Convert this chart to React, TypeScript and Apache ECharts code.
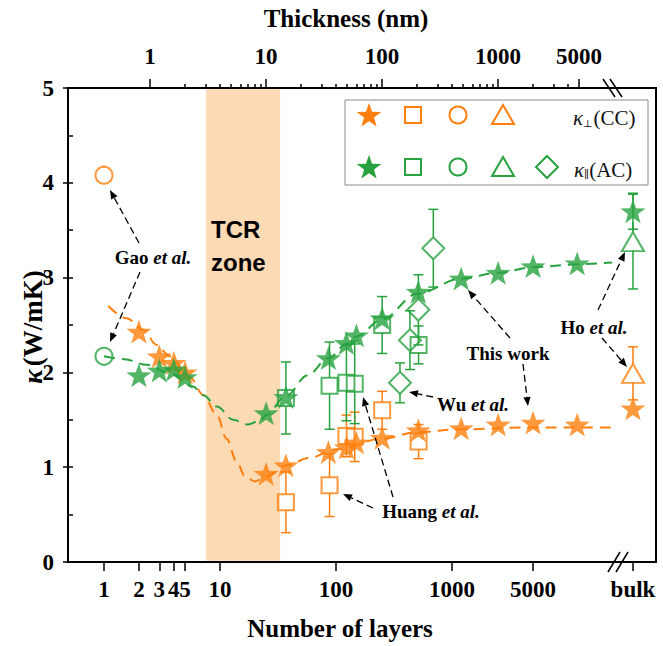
import { useEffect, useRef } from 'react';
import * as echarts from 'echarts';

// ---------- data ----------
type Lx = number | 'bulk';

// This work (stars)
const workLayers: Lx[] = [2, 3, 4, 5, 25, 37, 86, 123, 150, 250, 512, 1200, 2500, 5000, 12000, 'bulk'];
const workPerp = [2.43, 2.17, 2.10, 2.00, 0.93, 1.02, 1.16, 1.21, 1.26, 1.31, 1.39, 1.41, 1.45, 1.47, 1.45, 1.62];
const workPara = [1.97, 2.02, 2.03, 1.95, 1.57, 1.74, 2.15, 2.31, 2.39, 2.57, 2.85, 2.99, 3.05, 3.12, 3.15, 3.70];
const workParaErr = [0, 0, 0, 0, 0, 0, 0, 0, 0, 0, 0, 0, 0, 0, 0, 0.19];

// Huang et al. (squares)
const huangLayers: Lx[] = [37, 88, 123, 145, 250, 515];
const huangPerp = [0.63, 0.81, 1.33, 1.32, 1.60, 1.27];
const huangPerpErr = [0.32, 0.33, 0.22, 0.26, 0.20, 0.18];
const huangPara = [1.73, 1.86, 1.89, 1.88, 2.50, 2.29];
const huangParaErr = [0.38, 0.46, 0.40, 0.42, 0.30, 0.20];

// Gao et al. (circles)
const gaoLayers: Lx[] = [1];
const gaoPerp = [4.08];
const gaoPara = [2.17];

// Ho et al. (triangles)
const hoLayers: Lx[] = ['bulk'];
const hoPerp = [1.99];
const hoPerpErr = [0.28];
const hoPara = [3.38];
const hoParaErr = [0.5];

// Wu et al. (diamonds, in-plane only)
const wuLayers: Lx[] = [356, 434, 513, 690];
const wuPara = [1.89, 2.34, 2.66, 3.31];
const wuParaErr = [0.21, 0.31, 0.37, 0.41];

// dashed guide curves
const perpFitLayers = [1.09, 1.57, 2.18, 2.84, 3.7, 5.5, 7.2, 9.4, 11.4, 13.9, 16.5, 20, 25, 37, 60, 100, 250, 500, 1200, 5000, 24000];
const perpFitK = [2.70, 2.57, 2.45, 2.29, 2.17, 1.95, 1.76, 1.55, 1.30, 1.06, 0.90, 0.85, 0.90, 1.02, 1.10, 1.19, 1.30, 1.37, 1.40, 1.42, 1.42];
const paraFitLayers = [1, 1.5, 2.33, 3.7, 5.85, 7.2, 9.4, 13, 17.4, 22, 25, 37, 57, 86, 123, 150, 250, 500, 1200, 2500, 5000, 12000, 24000];
const paraFitK = [2.17, 2.14, 2.08, 1.99, 1.85, 1.76, 1.64, 1.50, 1.45, 1.49, 1.55, 1.75, 1.97, 2.15, 2.30, 2.38, 2.56, 2.83, 2.99, 3.05, 3.11, 3.14, 3.16];

// axes
const bottomTicks: Lx[] = [1, 2, 3, 4, 5, 10, 100, 1000, 5000, 'bulk'];
const topMajorTicks = [1, 10, 100, 1000, 5000];
const topMinorTicks = [2, 3, 4, 5, 6, 7, 8, 9, 20, 30, 40, 50, 60, 70, 80, 90, 200, 300, 400, 500, 600, 700, 800, 900, 2000, 3000, 4000];
const tcrZoneLayers = [7.6, 33];

// ---------- helpers ----------
const BULK_POS = 4.56;
const X_MIN = -0.3103;
const X_MAX = 4.7586;
const NM_PER_LAYER = 0.401;
const xOf = (l: Lx) => (l === 'bulk' ? BULK_POS : Math.log10(l));

const ORANGE = '#FF7F0E';
const GREEN = '#27A23E';
const SERIF = "'Liberation Serif', 'Times New Roman', serif";
const SANS = "'Liberation Sans', Arial, sans-serif";
const SYM = "'DejaVu Serif', 'DejaVu Sans', serif";

const starPts = Array.from({ length: 10 }, (_, i) => {
  const a = ((-90 + 36 * i) * Math.PI) / 180;
  const r = i % 2 === 0 ? 10 : 4;
  return [r * Math.cos(a), r * Math.sin(a)];
});
const STAR =
  'path://' + starPts.map((p, i) => (i ? 'L' : 'M') + p[0].toFixed(3) + ' ' + p[1].toFixed(3)).join(' ') + 'Z';

const pts = (ls: Lx[], ks: number[]) => ls.map((l, i) => [xOf(l), ks[i]]);

function scatter(ls: Lx[], ks: number[], symbol: string, size: number | number[], color: string, hollow: boolean, z: number) {
  return {
    type: 'scatter',
    xAxisIndex: 0,
    yAxisIndex: 0,
    silent: true,
    z,
    symbol,
    symbolSize: size,
    symbolKeepAspect: true,
    itemStyle: hollow
      ? { color: 'rgba(255,255,255,0)', borderColor: color, borderWidth: 2 }
      : { color, borderWidth: 0 },
    data: pts(ls, ks),
  };
}

function errorBars(ls: Lx[], ks: number[], es: number[], color: string, gap: number) {
  const data = ls.map((l, i) => [xOf(l), ks[i], es[i]]).filter((d) => d[2] > 0);
  return {
    type: 'custom',
    xAxisIndex: 0,
    yAxisIndex: 0,
    silent: true,
    z: 3,
    encode: { x: 0, y: 1 },
    data,
    renderItem: (_p: any, api: any) => {
      const x = api.value(0), y = api.value(1), e = api.value(2);
      const c = api.coord([x, y]);
      const t = api.coord([x, y + e]);
      const b = api.coord([x, y - e]);
      const st = { stroke: color, lineWidth: 1.5 };
      const ch: any[] = [];
      const cap = 5;
      if (t[1] < c[1] - gap) ch.push({ type: 'line', shape: { x1: c[0], y1: t[1], x2: c[0], y2: c[1] - gap }, style: st });
      if (b[1] > c[1] + gap) ch.push({ type: 'line', shape: { x1: c[0], y1: c[1] + gap, x2: c[0], y2: b[1] }, style: st });
      ch.push({ type: 'line', shape: { x1: c[0] - cap, y1: t[1], x2: c[0] + cap, y2: t[1] }, style: st });
      ch.push({ type: 'line', shape: { x1: c[0] - cap, y1: b[1], x2: c[0] + cap, y2: b[1] }, style: st });
      return { type: 'group', children: ch };
    },
  };
}

function fitLine(ls: number[], ks: number[], color: string) {
  return {
    type: 'line',
    xAxisIndex: 0,
    yAxisIndex: 0,
    silent: true,
    z: 2,
    smooth: 0.35,
    smoothMonotone: 'x',
    showSymbol: false,
    symbol: 'none',
    lineStyle: { color, width: 2, type: [11, 7] },
    data: ls.map((l, i) => [Math.log10(l), ks[i]]),
  };
}

function arrow(x1: number, y1: number, x2: number, y2: number) {
  const a = Math.atan2(y2 - y1, x2 - x1);
  const L = 9, W = 3.6;
  const bx = x2 - L * Math.cos(a), by = y2 - L * Math.sin(a);
  return [
    { type: 'line', z: 100, shape: { x1, y1, x2: bx, y2: by }, style: { stroke: '#000', lineWidth: 1.3, lineDash: [7, 4] } },
    {
      type: 'polygon', z: 100,
      shape: { points: [[x2, y2], [bx + W * Math.sin(a), by - W * Math.cos(a)], [bx - W * Math.sin(a), by + W * Math.cos(a)]] },
      style: { fill: '#000' },
    },
  ];
}

const annRich = {
  a: { fontFamily: SERIF, fontWeight: 'bold', fontSize: 19, fill: '#000' },
  b: { fontFamily: SERIF, fontWeight: 'bold', fontStyle: 'italic', fontSize: 19, fill: '#000' },
};
function annText(text: string, x: number, y: number) {
  return { type: 'text', z: 101, x, y, style: { text, rich: annRich, textAlign: 'center', textVerticalAlign: 'middle' } };
}

function starPolygon(cx: number, cy: number, size: number, color: string) {
  const s = size / 20;
  return { type: 'polygon', z: 101, shape: { points: starPts.map((p) => [cx + p[0] * s, cy + 1 + p[1] * s]) }, style: { fill: color } };
}
function legendRow(cy: number, color: string, withDiamond: boolean) {
  const hs = { fill: 'none', stroke: color, lineWidth: 2 };
  const els: any[] = [
    starPolygon(369, cy, 26, color),
    { type: 'rect', z: 101, shape: { x: 405, y: cy - 8, width: 16, height: 16 }, style: hs },
    { type: 'circle', z: 101, shape: { cx: 458, cy, r: 8.5 }, style: hs },
    { type: 'polygon', z: 101, shape: { points: [[503, cy - 10], [514, cy + 9], [492, cy + 9]] }, style: hs },
  ];
  if (withDiamond) els.push({ type: 'polygon', z: 101, shape: { points: [[547, cy - 11], [558, cy], [547, cy + 11], [536, cy]] }, style: hs });
  return els;
}

const tickFont = { fontFamily: SERIF, fontWeight: 'bold', fontSize: 23, color: '#000' };
const blackLine = { color: '#000', width: 2 };
const tickLine = { color: '#000', width: 1.5 };
const TOP_SHIFT = Math.log10(NM_PER_LAYER);

const option: any = {
  animation: false,
  grid: { left: 68, top: 88, right: 7, bottom: 84 },
  xAxis: [
    {
      type: 'value', position: 'bottom', min: X_MIN, max: X_MAX,
      splitLine: { show: false },
      axisLine: { show: true, onZero: false, lineStyle: blackLine },
      axisTick: { show: true, inside: false, length: 9, customValues: bottomTicks.map(xOf), lineStyle: tickLine },
      axisLabel: {
        ...tickFont, margin: 16, customValues: bottomTicks.map(xOf),
        formatter: (v: number) => {
          const i = bottomTicks.findIndex((t) => Math.abs(xOf(t) - v) < 1e-6);
          return i >= 0 ? String(bottomTicks[i]) : '';
        },
      },
    },
    {
      type: 'value', position: 'top', min: X_MIN + TOP_SHIFT, max: X_MAX + TOP_SHIFT,
      splitLine: { show: false },
      axisLine: { show: true, onZero: false, lineStyle: blackLine },
      axisTick: { show: true, inside: false, length: 9, customValues: topMajorTicks.map((t) => Math.log10(t)), lineStyle: tickLine },
      axisLabel: {
        ...tickFont, margin: 20, customValues: topMajorTicks.map((t) => Math.log10(t)),
        formatter: (v: number) => String(Math.round(Math.pow(10, v))),
      },
    },
    {
      type: 'value', position: 'top', min: X_MIN + TOP_SHIFT, max: X_MAX + TOP_SHIFT,
      splitLine: { show: false },
      axisLine: { show: true, onZero: false, lineStyle: blackLine },
      axisTick: { show: true, inside: false, length: 4, customValues: topMinorTicks.map((t) => Math.log10(t)), lineStyle: tickLine },
      axisLabel: { show: false },
    },
  ],
  yAxis: [
    {
      type: 'value', position: 'left', min: 0, max: 5, interval: 1,
      splitLine: { show: false },
      axisLine: { show: true, onZero: false, lineStyle: blackLine },
      axisTick: { show: true, inside: false, length: 5, lineStyle: tickLine },
      axisLabel: { ...tickFont, margin: 14 },
    },
    {
      type: 'value', position: 'left', min: 0, max: 5, interval: 0.5,
      splitLine: { show: false },
      axisLine: { show: true, onZero: false, lineStyle: blackLine },
      axisTick: { show: true, inside: true, length: 5, lineStyle: tickLine },
      axisLabel: { show: false },
    },
    {
      type: 'value', position: 'right', min: 0, max: 5,
      splitLine: { show: false },
      axisLine: { show: true, onZero: false, lineStyle: blackLine },
      axisTick: { show: false },
      axisLabel: { show: false },
    },
  ],
  series: [
    fitLine(perpFitLayers, perpFitK, ORANGE),
    fitLine(paraFitLayers, paraFitK, GREEN),
    errorBars(huangLayers, huangPerp, huangPerpErr, ORANGE, 8),
    errorBars(huangLayers, huangPara, huangParaErr, GREEN, 8),
    errorBars(wuLayers, wuPara, wuParaErr, GREEN, 11),
    errorBars(hoLayers, hoPerp, hoPerpErr, ORANGE, 9),
    errorBars(hoLayers, hoPara, hoParaErr, GREEN, 9),
    errorBars(workLayers, workPara, workParaErr, GREEN, 11),
    scatter(workLayers, workPerp, STAR, 25, ORANGE, false, 4),
    scatter(workLayers, workPara, STAR, 25, GREEN, false, 4),
    scatter(huangLayers, huangPerp, 'rect', 16, ORANGE, true, 5),
    scatter(huangLayers, huangPara, 'rect', 16, GREEN, true, 5),
    scatter(gaoLayers, gaoPerp, 'circle', 17, ORANGE, true, 5),
    scatter(gaoLayers, gaoPara, 'circle', 17, GREEN, true, 5),
    scatter(hoLayers, hoPerp, 'triangle', [22, 19], ORANGE, true, 5),
    scatter(hoLayers, hoPara, 'triangle', [22, 19], GREEN, true, 5),
    scatter(wuLayers, wuPara, 'diamond', 22, GREEN, true, 5),
    {
      type: 'line', xAxisIndex: 0, yAxisIndex: 0, z: 8, silent: true, data: [],
      markArea: {
        silent: true,
        itemStyle: { color: 'rgba(248,188,118,0.55)' },
        data: [[{ xAxis: Math.log10(tcrZoneLayers[0]), yAxis: 0.012 }, { xAxis: Math.log10(tcrZoneLayers[1]), yAxis: 4.988 }]],
      },
    },
  ],
  graphic: [
    // titles
    { type: 'text', z: 101, x: 346, y: 18, style: { text: 'Thickness (nm)', fontFamily: SERIF, fontWeight: 'bold', fontSize: 25, fill: '#000', textAlign: 'center', textVerticalAlign: 'middle' } },
    { type: 'text', z: 101, x: 340, y: 628, style: { text: 'Number of layers', fontFamily: SERIF, fontWeight: 'bold', fontSize: 25, fill: '#000', textAlign: 'center', textVerticalAlign: 'middle' } },
    {
      type: 'text', z: 101, x: 33, y: 327, rotation: Math.PI / 2,
      style: {
        text: '{i|κ} {n|(W/mK)}', textAlign: 'center', textVerticalAlign: 'middle',
        rich: {
          i: { fontFamily: SERIF, fontWeight: 'bold', fontStyle: 'italic', fontSize: 27, fill: '#000' },
          n: { fontFamily: SERIF, fontWeight: 'bold', fontSize: 27, fill: '#000' },
        },
      },
    },
    // TCR zone text
    { type: 'text', z: 101, x: 211, y: 246, style: { text: 'TCR\nzone', fontFamily: SANS, fontWeight: 'bold', fontSize: 24, lineHeight: 33, fill: '#000', textAlign: 'left', textVerticalAlign: 'middle' } },
    // axis break marks
    { type: 'line', z: 101, shape: { x1: 603, y1: 79, x2: 615, y2: 97 }, style: { stroke: '#000', lineWidth: 1.5 } },
    { type: 'line', z: 101, shape: { x1: 610, y1: 79, x2: 622, y2: 97 }, style: { stroke: '#000', lineWidth: 1.5 } },
    { type: 'line', z: 101, shape: { x1: 608, y1: 572, x2: 620, y2: 552 }, style: { stroke: '#000', lineWidth: 1.5 } },
    { type: 'line', z: 101, shape: { x1: 616, y1: 572, x2: 628, y2: 552 }, style: { stroke: '#000', lineWidth: 1.5 } },
    // legend
    { type: 'rect', z: 100, shape: { x: 345, y: 100, width: 303, height: 85 }, style: { fill: '#fff', stroke: '#8a8a8a', lineWidth: 1 } },
    ...legendRow(115, ORANGE, false),
    ...legendRow(167, GREEN, true),
    {
      type: 'text', z: 101, x: 573, y: 116,
      style: {
        text: '{k|κ}{s|⊥}{n|(CC)}', textAlign: 'left', textVerticalAlign: 'middle',
        rich: {
          k: { fontFamily: SERIF, fontStyle: 'italic', fontSize: 21, fill: '#111', verticalAlign: 'bottom', lineHeight: 24 },
          s: { fontFamily: SYM, fontSize: 10, fill: '#111', verticalAlign: 'bottom', lineHeight: 24, padding: [0, 1, 0, 0] },
          n: { fontFamily: SERIF, fontSize: 21, fill: '#111', verticalAlign: 'bottom', lineHeight: 24 },
        },
      },
    },
    {
      type: 'text', z: 101, x: 574, y: 168,
      style: {
        text: '{k|κ}{s|∥}{n|(AC)}', textAlign: 'left', textVerticalAlign: 'middle',
        rich: {
          k: { fontFamily: SERIF, fontStyle: 'italic', fontSize: 21, fill: '#111', verticalAlign: 'bottom', lineHeight: 24 },
          s: { fontFamily: SYM, fontStyle: 'italic', fontSize: 11, fill: '#111', verticalAlign: 'bottom', lineHeight: 24 },
          n: { fontFamily: SERIF, fontSize: 21, fill: '#111', verticalAlign: 'bottom', lineHeight: 24 },
        },
      },
    },
    // annotations
    annText('{a|Gao }{b|et al.}', 153, 257),
    ...arrow(139, 243, 110, 190),
    ...arrow(140, 272, 110, 342),
    annText('{a|Huang }{b|et al.}', 431, 511),
    ...arrow(373, 508, 343, 494),
    ...arrow(393, 497, 363, 397),
    annText('{a|Wu }{b|et al.}', 473, 404),
    ...arrow(433, 397, 409, 392),
    annText('{a|This work}', 508, 353),
    ...arrow(510, 338, 468, 290),
    ...arrow(523, 364, 528, 406),
    annText('{a|Ho }{b|et al.}', 594, 327),
    ...arrow(598, 310, 625, 252),
    ...arrow(602, 338, 627, 367),
  ],
};

export default function App() {
  const ref = useRef<HTMLDivElement>(null);
  useEffect(() => {
    const chart = echarts.init(ref.current!, null, { renderer: 'svg' });
    chart.setOption(option);
    return () => chart.dispose();
  }, []);
  return (
    <div
      ref={ref}
      style={{ position: 'fixed', left: 0, top: 0, width: 663, height: 646, background: '#fff' }}
    />
  );
}
